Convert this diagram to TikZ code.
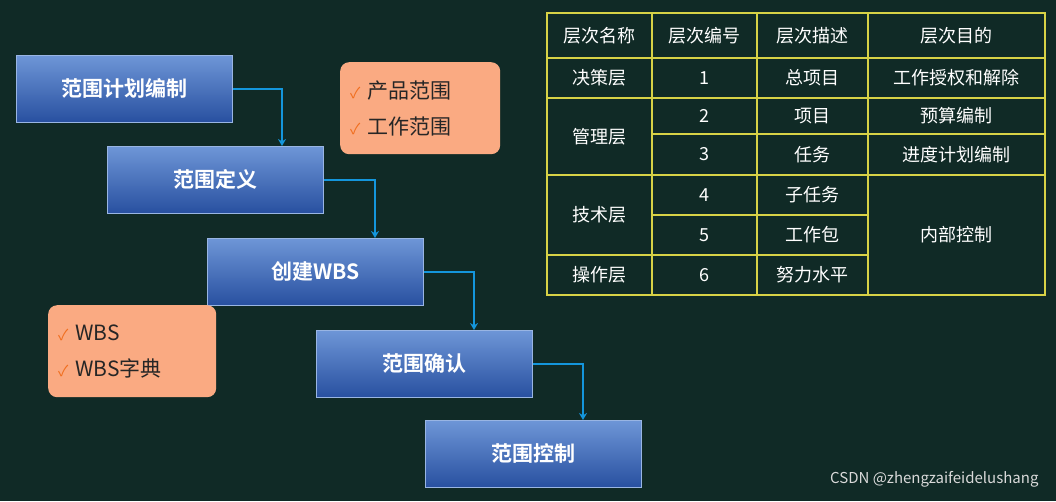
\documentclass[tikz,border=0pt]{standalone}
\usepackage{fontspec}
\setmainfont{Noto Sans CJK SC}
\newfontfamily\cjkb{Noto Sans CJK SC Bold}
\definecolor{bg}{RGB}{16,42,38}
\definecolor{boxtop}{RGB}{110,150,215}
\definecolor{boxbot}{RGB}{40,80,160}
\definecolor{arr}{RGB}{20,150,220}
\definecolor{ora}{RGB}{250,170,130}
\definecolor{tick}{RGB}{240,110,30}
\definecolor{grid}{RGB}{215,210,70}
\begin{document}
\begin{tikzpicture}[x=1pt,y=-1pt,
  step box/.style={draw=boxtop!70!white,line width=0.5pt,top color=boxtop,bottom color=boxbot,minimum width=216pt,minimum height=67pt,text=white,font=\cjkb\fontsize{21}{24}\selectfont,anchor=north west},
  note/.style={fill=ora,rounded corners=9pt,anchor=north west,font=\fontsize{21}{36}\selectfont,align=left,text=black!85},
  flow/.style={draw=arr,line width=1.5pt,-{Stealth[length=7pt,width=8pt]}},
  cell/.style={text=white,font=\fontsize{18}{20}\selectfont}]
\usetikzlibrary{arrows.meta}
\fill[bg] (0,0) rectangle (1056,501);
\node[step box] (b1) at (16,55) {范围计划编制};
\node[step box] (b2) at (107,146) {范围定义};
\node[step box] (b3) at (207,238) {创建WBS};
\node[step box] (b4) at (316,330) {范围确认};
\node[step box] (b5) at (425,420) {范围控制};
\draw[flow] (b1.east) -| (b2.north -| 282,0);
\draw[flow] (b2.east) -| (b3.north -| 375,0);
\draw[flow] (b3.east) -| (b4.north -| 474,0);
\draw[flow] (b4.east) -| (b5.north -| 583,0);
\node[note,minimum width=160pt,minimum height=92pt,text width=140pt] (n1) at (340,62) {\textcolor{tick}{\fontsize{15}{15}\selectfont ✓} 产品范围\\\textcolor{tick}{\fontsize{15}{15}\selectfont ✓} 工作范围};
\node[note,minimum width=168pt,minimum height=92pt,text width=148pt] (n2) at (48,305) {\textcolor{tick}{\fontsize{15}{15}\selectfont ✓} WBS\\\textcolor{tick}{\fontsize{15}{15}\selectfont ✓} WBS字典};
% table
\draw[grid,line width=1.5pt] (547,13) rectangle (1045,295);
\foreach \y in {58,98,175,255} \draw[grid,line width=1.5pt] (547,\y) -- (868,\y);
\foreach \y in {58,98,134,175} \draw[grid,line width=1.5pt] (868,\y) -- (1045,\y);
\foreach \y in {134,215} \draw[grid,line width=1.5pt] (652,\y) -- (868,\y);
\foreach \x in {652,757,868} \draw[grid,line width=1.5pt] (\x,13) -- (\x,295);
\node[cell] (h1) at (599.5,35.5) {层次名称};
\node[cell] (h2) at (704.5,35.5) {层次编号};
\node[cell] (h3) at (812.5,35.5) {层次描述};
\node[cell] (h4) at (956.5,35.5) {层次目的};
\node[cell] (a1) at (599.5,78) {决策层};
\node[cell] (a2) at (599.5,136.5) {管理层};
\node[cell] (a3) at (599.5,215) {技术层};
\node[cell] (a4) at (599.5,275) {操作层};
\node[cell] (c1) at (704.5,78) {1};
\node[cell] (c2) at (704.5,116) {2};
\node[cell] (c3) at (704.5,154.5) {3};
\node[cell] (c4) at (704.5,195) {4};
\node[cell] (c5) at (704.5,235) {5};
\node[cell] (c6) at (704.5,275) {6};
\node[cell] (d1) at (812.5,78) {总项目};
\node[cell] (d2) at (812.5,116) {项目};
\node[cell] (d3) at (812.5,154.5) {任务};
\node[cell] (d4) at (812.5,195) {子任务};
\node[cell] (d5) at (812.5,235) {工作包};
\node[cell] (d6) at (812.5,275) {努力水平};
\node[cell] (e1) at (956.5,78) {工作授权和解除};
\node[cell] (e2) at (956.5,116) {预算编制};
\node[cell] (e3) at (956.5,154.5) {进度计划编制};
\node[cell] (e4) at (956.5,235) {内部控制};
\node[text=white!85!black,font=\fontsize{15}{18}\selectfont,anchor=east] (wm) at (1042,479) {CSDN @zhengzaifeidelushang};
\end{tikzpicture}
\end{document}
